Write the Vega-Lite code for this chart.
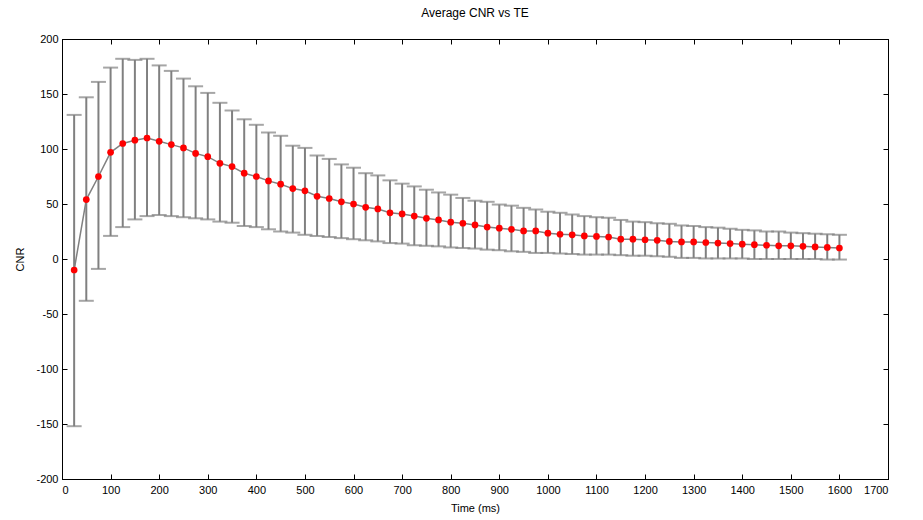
{
  "$schema": "https://vega.github.io/schema/vega-lite/v6.json",
  "autosize": "none",
  "padding": {"left": 62, "top": 39, "right": 35, "bottom": 41},
  "width": 826,
  "height": 440,
  "background": "white",
  "title": {"text": "Average CNR vs TE", "fontSize": 12, "fontWeight": "normal", "font": "Liberation Sans", "color": "black", "offset": 13},
  "data": {
    "values": [
      {"te": 25, "cnr": -10, "lo": -152, "hi": 131},
      {"te": 50, "cnr": 54, "lo": -38, "hi": 147},
      {"te": 75, "cnr": 75, "lo": -9, "hi": 161},
      {"te": 100, "cnr": 97, "lo": 21, "hi": 174},
      {"te": 125, "cnr": 105, "lo": 29, "hi": 182},
      {"te": 150, "cnr": 108, "lo": 36, "hi": 181},
      {"te": 175, "cnr": 110, "lo": 39, "hi": 182},
      {"te": 200, "cnr": 107, "lo": 40, "hi": 176},
      {"te": 225, "cnr": 104, "lo": 39, "hi": 171},
      {"te": 250, "cnr": 101, "lo": 38, "hi": 164},
      {"te": 275, "cnr": 96, "lo": 37, "hi": 157},
      {"te": 300, "cnr": 93, "lo": 36, "hi": 151},
      {"te": 325, "cnr": 87, "lo": 34, "hi": 142},
      {"te": 350, "cnr": 84, "lo": 33, "hi": 135},
      {"te": 375, "cnr": 78, "lo": 30, "hi": 127},
      {"te": 400, "cnr": 75, "lo": 29, "hi": 122},
      {"te": 425, "cnr": 71, "lo": 27, "hi": 115},
      {"te": 450, "cnr": 68, "lo": 25, "hi": 112},
      {"te": 475, "cnr": 64, "lo": 24, "hi": 103},
      {"te": 500, "cnr": 62, "lo": 22, "hi": 101},
      {"te": 525, "cnr": 57, "lo": 21, "hi": 94},
      {"te": 550, "cnr": 55, "lo": 20, "hi": 91},
      {"te": 575, "cnr": 52, "lo": 19, "hi": 86},
      {"te": 600, "cnr": 50, "lo": 18, "hi": 83},
      {"te": 625, "cnr": 47, "lo": 17, "hi": 78},
      {"te": 650, "cnr": 45.5, "lo": 16, "hi": 76},
      {"te": 675, "cnr": 42, "lo": 14.5, "hi": 71.5},
      {"te": 700, "cnr": 41, "lo": 14, "hi": 68.5},
      {"te": 725, "cnr": 39, "lo": 12.5, "hi": 66},
      {"te": 750, "cnr": 37, "lo": 12, "hi": 63},
      {"te": 775, "cnr": 35.5, "lo": 11.5, "hi": 60.5},
      {"te": 800, "cnr": 33.5, "lo": 10.5, "hi": 58.5},
      {"te": 825, "cnr": 32.5, "lo": 10, "hi": 55.5},
      {"te": 850, "cnr": 31, "lo": 9.5, "hi": 53},
      {"te": 875, "cnr": 29, "lo": 8.5, "hi": 52},
      {"te": 900, "cnr": 28, "lo": 8, "hi": 49.5},
      {"te": 925, "cnr": 27, "lo": 7, "hi": 48.5},
      {"te": 950, "cnr": 25.5, "lo": 6.5, "hi": 46.5},
      {"te": 975, "cnr": 25.5, "lo": 5.5, "hi": 45},
      {"te": 1000, "cnr": 23.5, "lo": 5.5, "hi": 43},
      {"te": 1025, "cnr": 22.5, "lo": 5, "hi": 42},
      {"te": 1050, "cnr": 22, "lo": 4.5, "hi": 40.5},
      {"te": 1075, "cnr": 21, "lo": 4, "hi": 39},
      {"te": 1100, "cnr": 20.5, "lo": 4, "hi": 38},
      {"te": 1125, "cnr": 20, "lo": 4, "hi": 37.5},
      {"te": 1150, "cnr": 18, "lo": 3.5, "hi": 35.5},
      {"te": 1175, "cnr": 18, "lo": 3, "hi": 34},
      {"te": 1200, "cnr": 17.5, "lo": 3, "hi": 33.5},
      {"te": 1225, "cnr": 17, "lo": 2.5, "hi": 32.5},
      {"te": 1250, "cnr": 16, "lo": 2, "hi": 32},
      {"te": 1275, "cnr": 15.5, "lo": 1, "hi": 30.5},
      {"te": 1300, "cnr": 15.5, "lo": 1, "hi": 30},
      {"te": 1325, "cnr": 15, "lo": 0.5, "hi": 29},
      {"te": 1350, "cnr": 14.5, "lo": 0.5, "hi": 28.5},
      {"te": 1375, "cnr": 14, "lo": 0.5, "hi": 27.5},
      {"te": 1400, "cnr": 13.5, "lo": 0.5, "hi": 26.5},
      {"te": 1425, "cnr": 13, "lo": 0, "hi": 26},
      {"te": 1450, "cnr": 12.5, "lo": 0, "hi": 25},
      {"te": 1475, "cnr": 12, "lo": 0, "hi": 25},
      {"te": 1500, "cnr": 12, "lo": 0, "hi": 24},
      {"te": 1525, "cnr": 11.5, "lo": 0, "hi": 23.5},
      {"te": 1550, "cnr": 11, "lo": 0, "hi": 23},
      {"te": 1575, "cnr": 10.5, "lo": -0.5, "hi": 22.5},
      {"te": 1600, "cnr": 10, "lo": -0.5, "hi": 22}
    ]
  },
  "layer": [
    {
      "encoding": {
        "x": {
          "field": "te", "type": "quantitative",
          "scale": {"domain": [0, 1700], "nice": false, "zero": false},
          "axis": {"orient": "bottom", "title": "Time (ms)", "values": [0,100,200,300,400,500,600,700,800,900,1000,1100,1200,1300,1400,1500,1600,1700], "labelExpr": "'' + datum.value", "labelPadding": 10, "titlePadding": 7}
        }
      },
      "layer": [
        {
          "mark": {"type": "rule", "color": "#808080", "strokeWidth": 2},
          "encoding": {
            "y": {
              "field": "lo", "type": "quantitative",
              "scale": {"domain": [-200, 200], "nice": false, "zero": false},
              "axis": {"orient": "left", "title": "CNR", "values": [-200,-150,-100,-50,0,50,100,150,200], "labelExpr": "'' + datum.value", "labelPadding": 9, "titlePadding": 10}
            },
            "y2": {"field": "hi"}
          }
        },
        {
          "mark": {"type": "tick", "color": "#808080", "orient": "horizontal", "size": 15, "thickness": 2},
          "encoding": {"y": {"field": "lo", "type": "quantitative"}}
        },
        {
          "mark": {"type": "tick", "color": "#808080", "orient": "horizontal", "size": 15, "thickness": 2},
          "encoding": {"y": {"field": "hi", "type": "quantitative"}}
        },
        {
          "mark": {"type": "line", "color": "#808080", "strokeWidth": 1.5},
          "encoding": {"y": {"field": "cnr", "type": "quantitative"}}
        },
        {
          "mark": {"type": "point", "filled": true, "color": "#ff0000", "opacity": 1, "size": 45},
          "encoding": {"y": {"field": "cnr", "type": "quantitative"}}
        }
      ]
    },
    {
      "mark": {"type": "point", "opacity": 0},
      "encoding": {
        "x": {
          "field": "te", "type": "quantitative",
          "axis": {"orient": "top", "title": null, "labels": false, "values": [0,100,200,300,400,500,600,700,800,900,1000,1100,1200,1300,1400,1500,1600,1700]}
        },
        "y": {
          "field": "cnr", "type": "quantitative",
          "axis": {"orient": "right", "title": null, "labels": false, "values": [-200,-150,-100,-50,0,50,100,150,200]}
        }
      }
    }
  ],
  "resolve": {"axis": {"x": "independent", "y": "independent"}},
  "config": {
    "view": {"stroke": "black", "strokeWidth": 1},
    "axis": {
      "grid": false,
      "domainColor": "black",
      "tickColor": "black",
      "tickSize": -5,
      "labelColor": "black",
      "labelFont": "Liberation Sans",
      "labelFontSize": 11,
      "titleFont": "Liberation Sans",
      "titleFontSize": 11,
      "titleFontWeight": "normal",
      "titleColor": "black"
    }
  }
}
